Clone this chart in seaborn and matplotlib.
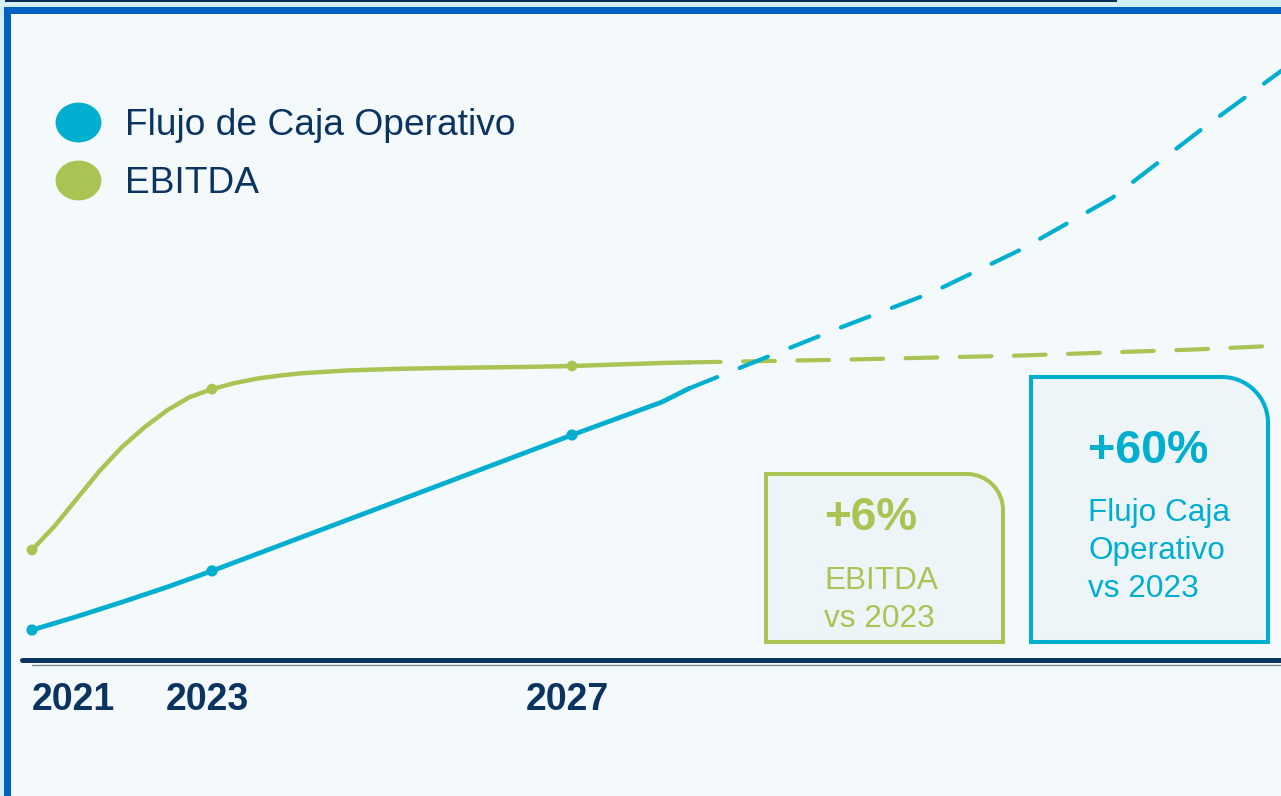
import numpy as np
import pandas as pd
import seaborn as sns
import matplotlib.pyplot as plt
from matplotlib.path import Path
from matplotlib.patches import PathPatch, Rectangle
from matplotlib.lines import Line2D
from matplotlib.transforms import IdentityTransform, Affine2D

# -------------------------------
# Data (index values)
# -------------------------------
ebitda_years = [2021, 2021.25, 2021.5, 2021.75, 2022, 2022.25, 2022.5, 2022.75,
                2023, 2023.25, 2023.5, 2023.75, 2024, 2024.5, 2025, 2025.5,
                2026, 2026.5, 2027, 2027.5, 2028, 2028.3]
ebitda_vals = [36.7, 44.6, 53.8, 63, 71, 77.6, 83.2, 87.6,
               90.3, 92.3, 93.8, 94.8, 95.6, 96.5, 97.0, 97.3,
               97.5, 97.7, 98, 98.5, 99, 99.2]
ebitda_proj_years = [2028.3, 2030, 2032, 2034, 2035]
ebitda_proj_vals = [99.2, 100.1, 101.5, 103.6, 105]

ocf_years = [2021, 2021.5, 2022, 2022.5, 2023, 2025, 2027, 2027.5, 2028, 2028.3]
ocf_vals = [10, 14.5, 19.3, 24.3, 29.7, 52.3, 75, 80.5, 86, 90.5]
ocf_proj_years = [2028.3, 2029, 2030, 2031, 2032, 2033, 2034, 2035]
ocf_proj_vals = [90.5, 99, 111, 122.5, 137, 154, 177, 199]

marker_years = [2021, 2023, 2027]
tick_years = [2021, 2023, 2027]
series_names = ["Flujo de Caja Operativo", "EBITDA"]

# -------------------------------
# Style
# -------------------------------
W, H = 1281, 796
BLUE = "#00AED0"
GREEN = "#A9C453"
NAVY = "#0C3461"

sns.set_theme(style="white")
plt.rcParams['font.family'] = ['Liberation Sans', 'DejaVu Sans']

fig = plt.figure(figsize=(W / 100, H / 100), dpi=100)
fig.patch.set_facecolor("#D2EEF6")

# page frame (behind the axes)
fig.patches.append(Rectangle((4, 0), W - 4, H - 7, transform=IdentityTransform(),
                             facecolor="#0061C0", edgecolor="none", zorder=-5))
fig.patches.append(Rectangle((5, H - 2), 1112, 2, transform=IdentityTransform(),
                             facecolor="#0A2D55", edgecolor="none", zorder=-5))

ax = fig.add_axes([11 / W, 0, (W - 11) / W, (H - 14) / H])
ax.set_facecolor("#F4F9FC")
ax.set_xlim(2021 + (11 - 32) / 90, 2021 + (W - 32) / 90)
ax.set_ylim((660 - H) / 3, (660 - 14) / 3)
for s in ax.spines.values():
    s.set_visible(False)
ax.set_xticks([])
ax.set_yticks([])

# baseline
ax.axhline(-1.5, xmin=(32 - 11) / (W - 11), xmax=1, color="#7F8A94", lw=1.0, zorder=1)
ax.axhline(0, xmin=(22 - 11) / (W - 11), xmax=1, color=NAVY, lw=3.6, zorder=2)

# -------------------------------
# Lines
# -------------------------------
ocf_lookup = dict(zip(ocf_years, ocf_vals))
ebitda_lookup = dict(zip(ebitda_years, ebitda_vals))

sns.lineplot(x=ebitda_proj_years, y=ebitda_proj_vals, color=GREEN, lw=3.0,
             linestyle=(0, (7.6, 5.4)), dash_capstyle="round", ax=ax, zorder=3)
sns.lineplot(x=ebitda_years, y=ebitda_vals, color=GREEN, lw=3.2,
             solid_capstyle="round", solid_joinstyle="round", ax=ax, zorder=3)
sns.lineplot(x=ocf_proj_years, y=ocf_proj_vals, color=BLUE, lw=3.0,
             linestyle=(0, (7.3, 5.8)), dash_capstyle="round", ax=ax, zorder=4)
sns.lineplot(x=ocf_years, y=ocf_vals, color=BLUE, lw=3.4,
             solid_capstyle="round", solid_joinstyle="round", ax=ax, zorder=4)

sns.scatterplot(x=marker_years, y=[ebitda_lookup[y] for y in marker_years],
                color=GREEN, s=60, edgecolor="none", ax=ax, zorder=5)
sns.scatterplot(x=marker_years, y=[ocf_lookup[y] for y in marker_years],
                color=BLUE, s=65, edgecolor="none", ax=ax, zorder=5)
ax.set_xlabel("")
ax.set_ylabel("")

# year labels
for i, yr in enumerate(tick_years):
    ax.annotate(str(yr), xy=(yr, (660 - 710) / 3), xytext=(0 if i == 0 else -3.5, 0),
                textcoords="offset points", ha="left" if i == 0 else "center",
                va="baseline", fontsize=27, fontweight="bold", color=NAVY)

# -------------------------------
# Legend
# -------------------------------
ell = Path.unit_circle().transformed(Affine2D().scale(1.15, 1.0))
handles = [Line2D([], [], ls="", marker=ell, markersize=33, markerfacecolor=c,
                  markeredgecolor="none") for c in (BLUE, GREEN)]
ax.legend(handles, series_names, loc="upper left",
          bbox_to_anchor=(54 / W, 1 - 108 / H), bbox_transform=fig.transFigure,
          frameon=False, fontsize=26.7, handlelength=1.3, handletextpad=0.62,
          borderpad=0, borderaxespad=0, labelspacing=0.62, labelcolor=NAVY)


# -------------------------------
# Callout boxes
# -------------------------------
def corner_box(x0, y0, x1, y1, r, color):
    b, t = H - y1, H - y0
    k = 0.5523 * r
    verts = [(x0, b), (x0, t), (x1 - r, t), (x1 - r + k, t), (x1, t - r + k),
             (x1, t - r), (x1, b), (x0, b)]
    codes = [Path.MOVETO, Path.LINETO, Path.LINETO, Path.CURVE4, Path.CURVE4,
             Path.CURVE4, Path.LINETO, Path.CLOSEPOLY]
    fig.patches.append(PathPatch(Path(verts, codes), transform=IdentityTransform(),
                                 facecolor="#EDF5F8", edgecolor=color, lw=2.9,
                                 joinstyle="miter", zorder=6))


def px_text(x, y, s, size, color, bold=False):
    fig.text(x, H - y, s, transform=IdentityTransform(), fontsize=size, color=color,
             fontweight="bold" if bold else "normal", ha="left", va="baseline", zorder=7)


corner_box(766, 474, 1003, 642, 36, GREEN)
px_text(824, 530, "+6%", 33, GREEN, bold=True)
px_text(824, 589, "EBITDA", 22.7, GREEN)
px_text(824, 627, "vs 2023", 22.7, GREEN)

corner_box(1031, 377, 1268, 642, 46, BLUE)
px_text(1088, 463, "+60%", 33.5, BLUE, bold=True)
px_text(1088, 521, "Flujo Caja", 22.7, BLUE)
px_text(1088, 559, "Operativo", 22.7, BLUE)
px_text(1088, 597, "vs 2023", 22.7, BLUE)

fig.savefig("out.png", dpi=100, facecolor=fig.get_facecolor())
